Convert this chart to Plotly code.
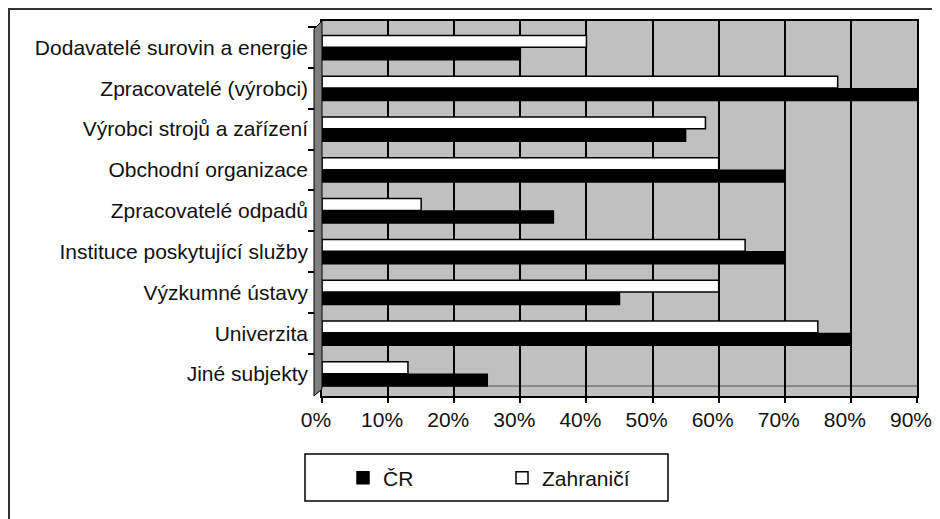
import plotly.graph_objects as go

# ---- data ----
categories = [
    "Dodavatelé surovin a energie",
    "Zpracovatelé (výrobci)",
    "Výrobci strojů a zařízení",
    "Obchodní organizace",
    "Zpracovatelé odpadů",
    "Instituce poskytující služby",
    "Výzkumné ústavy",
    "Univerzita",
    "Jiné subjekty",
]
cr_values = [0.30, 0.91, 0.55, 0.70, 0.35, 0.70, 0.45, 0.80, 0.25]
zahranici_values = [0.40, 0.78, 0.58, 0.60, 0.15, 0.64, 0.60, 0.75, 0.13]
x_tick_values = [0, 0.1, 0.2, 0.3, 0.4, 0.5, 0.6, 0.7, 0.8, 0.9]
x_tick_labels = ["0%", "10%", "20%", "30%", "40%", "50%", "60%", "70%", "80%", "90%"]
series_names = ["ČR", "Zahraničí"]

# ---- layout geometry (page pixels; the page body adds an 8px offset) ----
OFF = 8
W, H = 940 - OFF, 519 - OFF
L, R, T, B = 322, 917, 21, 396   # plot area in page pixels


def px(x):
    return (x - L) / (R - L)


def py(y):
    return (B - y) / (B - T)


FONT = "Arial, Liberation Sans, sans-serif"
FS = 21

fig = go.Figure()
fig.add_trace(go.Bar(
    y=categories, x=zahranici_values, orientation="h", name=series_names[1],
    marker=dict(color="white", line=dict(color="black", width=1.5)),
    legendrank=2,
))
fig.add_trace(go.Bar(
    y=categories, x=cr_values, orientation="h", name=series_names[0],
    marker=dict(color="black", line=dict(color="black", width=1.5)),
    legendrank=1,
))

shapes = [
    # outer frame
    dict(type="rect", xref="paper", yref="paper", x0=px(9), x1=px(990), y0=py(9), y1=py(560),
         line=dict(color="#333333", width=2), fillcolor="rgba(0,0,0,0)"),
    # side wall
    dict(type="path", xref="paper", yref="paper",
         path=f"M {px(322)},{py(21)} L {px(314)},{py(29)} L {px(314)},{py(396)} L {px(322)},{py(389)} Z",
         fillcolor="#7f7f7f", line=dict(color="black", width=1)),
    # floor back edge
    dict(type="line", xref="x domain", yref="y domain", x0=px(322), x1=px(917), y0=py(386), y1=py(386),
         line=dict(color="#505050", width=1), layer="below"),
    # legend box
    dict(type="rect", xref="paper", yref="paper", x0=px(305), x1=px(668), y0=py(454), y1=py(501),
         line=dict(color="black", width=1.5), fillcolor="rgba(0,0,0,0)"),
]

fig.update_layout(
    width=W, height=H,
    margin=dict(l=L - OFF, r=W - (R - OFF), t=T - OFF, b=H - (B - OFF), autoexpand=False),
    paper_bgcolor="white",
    plot_bgcolor="#c0c0c0",
    barmode="group",
    bargap=0.39,
    bargroupgap=0.05,
    font=dict(family=FONT, size=FS, color="#111111"),
    showlegend=True,
    legend=dict(
        orientation="h", x=px(343), xanchor="left", y=py(478), yanchor="middle",
        bgcolor="rgba(0,0,0,0)", borderwidth=0,
        entrywidth=114, entrywidthmode="pixels",
        font=dict(family=FONT, size=FS, color="#111111"),
    ),
    shapes=shapes,
)

fig.update_xaxes(
    range=[0, 0.9], tickvals=x_tick_values, ticktext=x_tick_labels,
    showgrid=True, gridcolor="black", gridwidth=2, zeroline=False,
    showline=True, linecolor="black", linewidth=1.5, mirror=True,
    ticks="outside", ticklen=5, tickcolor="black", tickwidth=1.5,
    ticklabelshift=-6, ticklabelstandoff=-1,
    tickfont=dict(family=FONT, size=FS, color="#111111"),
)
fig.update_yaxes(
    type="category", categoryorder="array", categoryarray=categories,
    range=[8.54, -0.65],
    showgrid=False, zeroline=False,
    showline=True, linecolor="black", linewidth=1.5, mirror=True,
    ticks="outside", tickson="boundaries", ticklen=12, tickcolor="black", tickwidth=1.5,
    ticklabelstandoff=8,
    tickfont=dict(family=FONT, size=FS, color="#111111"),
)

fig.write_html("out.html")
